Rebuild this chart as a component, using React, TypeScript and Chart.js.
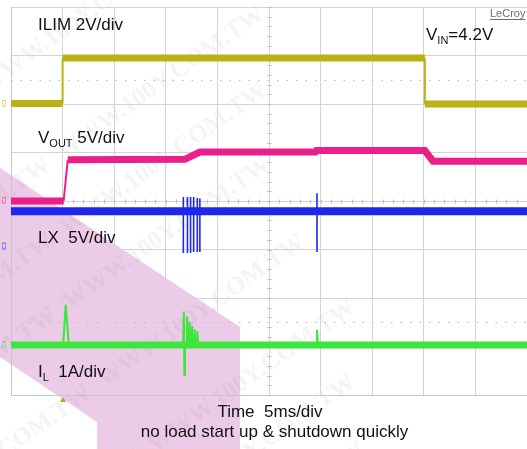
import React, { useEffect, useRef } from "react";
import { Chart, registerables } from "chart.js";

Chart.register(...registerables);

// Time axis in divisions (5 ms/div), vertical axis in screen divisions
const ilimTime = [0, 1.0, 1.0, 8.02, 8.02, 10];
const ilimLevel = [6.01, 6.01, 6.95, 6.95, 6.0, 6.0];

const voutTime = [0, 1.02, 1.1, 3.37, 3.66, 5.9, 5.92, 8.02, 8.18, 10];
const voutLevel = [4.0, 4.0, 4.85, 4.86, 5.01, 5.01, 5.04, 5.04, 4.82, 4.82];

const lxTime = [0, 10];
const lxLevel = [3.79, 3.79];
const lxSpikeTime = [3.34, 3.42, 3.48, 3.54, 3.61, 3.66, 5.93];
const lxSpikeLow = [2.93, 2.93, 2.93, 2.95, 2.95, 2.95, 2.95];
const lxSpikeHigh = [4.08, 4.08, 4.08, 4.08, 4.06, 4.05, 4.16];

const ilTime = [0, 10];
const ilLevel = [1.03, 1.03];
const ilSpikeTime = [1.06, 3.35, 3.41, 3.46, 3.51, 3.56, 3.61, 5.93];
const ilSpikePeak = [1.86, 1.72, 1.62, 1.51, 1.42, 1.35, 1.32, 1.34];
const ilSpikeRise = [0.05, 0.02, 0.005, 0.005, 0.005, 0.005, 0.005, 0.01];
const ilSpikeFall = [0.06, 0.0, 0.02, 0.02, 0.02, 0.02, 0.02, 0.02];
const ilDipTime = [3.36];
const ilDipLow = [0.41];

const watermarkText = "WWW.100Y.COM.TW";

const COL_Y = "#b8b214";
const COL_M = "#ea1f8c";
const COL_B = "#1e28ec";
const COL_G = "#3ce63c";

const FONT = '"Liberation Sans", Arial, sans-serif';

function pts(xs: number[], ys: number[]) {
  return xs.map((x, i) => ({ x, y: ys[i] }));
}

function lxSpikes() {
  const out: any[] = [];
  lxSpikeTime.forEach((t, i) => {
    out.push({ x: t, y: lxSpikeLow[i] }, { x: t, y: lxSpikeHigh[i] }, { x: t, y: NaN });
  });
  return out;
}

function ilSpikes() {
  const out: any[] = [];
  ilSpikeTime.forEach((t, i) => {
    const base = ilLevel[0];
    out.push({ x: t - ilSpikeRise[i], y: base }, { x: t, y: ilSpikePeak[i] });
    const dipIdx = ilDipTime.findIndex((d) => Math.abs(d - t) < 0.03);
    if (dipIdx >= 0) {
      out.push({ x: ilDipTime[dipIdx], y: ilDipLow[dipIdx] });
    }
    out.push({ x: t + ilSpikeFall[i] + (dipIdx >= 0 ? 0.02 : 0), y: base }, { x: t, y: NaN });
  });
  return out;
}

// thin for steep transitions, thick noisy band otherwise
function bandWidth(thick: number) {
  return (c: any) => {
    const dx = Math.abs(c.p1.x - c.p0.x);
    const dy = Math.abs(c.p1.y - c.p0.y);
    return dy > 6 && dx < dy * 0.3 ? 2 : thick;
  };
}

const decorPlugin = {
  id: "decor",
  beforeDraw(chart: any) {
    const ctx = chart.ctx;
    ctx.save();
    // pink watermark band
    ctx.fillStyle = "rgb(236,203,233)";
    ctx.beginPath();
    ctx.moveTo(0, 168);
    ctx.lineTo(240, 327);
    ctx.lineTo(240, 449);
    ctx.lineTo(97, 449);
    ctx.lineTo(97, 422);
    ctx.lineTo(0, 357);
    ctx.closePath();
    ctx.fill();
    // watermark text
    ctx.font = 'bold 25px "Liberation Serif", "DejaVu Serif", serif';
    ctx.fillStyle = "rgba(120,120,120,0.08)";
    ctx.textAlign = "right";
    ctx.textBaseline = "middle";
    const ang = -0.615;
    const tw = ctx.measureText(watermarkText).width + 14;
    const ends: [number, number][] = [
      [185, -55],
      [262, 12],
      [265, 88],
      [268, 162],
      [303, 240],
      [353, 305],
      [353, 380],
      [363, 448],
    ];
    ends.forEach(([ex, ey]) => {
      for (let k = 0; k < 3; k++) {
        ctx.save();
        ctx.translate(ex - k * tw * Math.cos(ang), ey - k * tw * Math.sin(ang));
        ctx.rotate(ang);
        ctx.fillText(watermarkText, 0, 0);
        ctx.restore();
      }
    });
    ctx.restore();
  },
  beforeDatasetsDraw(chart: any) {
    const ctx = chart.ctx;
    const xs = chart.scales.x;
    const ys = chart.scales.y;
    const a = chart.chartArea;
    ctx.save();
    // dotted lines
    ctx.strokeStyle = "#b8b8b8";
    ctx.lineWidth = 1;
    ctx.setLineDash([1.5, 8]);
    [1.5, 6.5].forEach((v) => {
      const y = Math.round(ys.getPixelForValue(v)) + 0.5;
      ctx.beginPath();
      ctx.moveTo(a.left, y);
      ctx.lineTo(a.right, y);
      ctx.stroke();
    });
    ctx.setLineDash([]);
    // center axis minor ticks
    ctx.strokeStyle = "#bdbdbd";
    const cx = Math.round(xs.getPixelForValue(5)) + 0.5;
    for (let j = 0; j <= 40; j++) {
      const y = Math.round(ys.getPixelForValue(j * 0.2)) + 0.5;
      ctx.beginPath();
      ctx.moveTo(cx - 2, y);
      ctx.lineTo(cx + 2, y);
      ctx.stroke();
    }
    const cy = Math.round(ys.getPixelForValue(4)) + 0.5;
    for (let i = 0; i <= 50; i++) {
      const x = Math.round(xs.getPixelForValue(i * 0.2)) + 0.5;
      ctx.beginPath();
      ctx.moveTo(x, cy - 2);
      ctx.lineTo(x, cy + 2);
      ctx.stroke();
    }
    ctx.restore();
  },
  afterDraw(chart: any) {
    const ctx = chart.ctx;
    ctx.save();
    ctx.fillStyle = "#111";
    ctx.textBaseline = "alphabetic";
    const big = `17px ${FONT}`;
    const sub = `11px ${FONT}`;
    const drawSeq = (x: number, y: number, parts: [string, boolean][]) => {
      let cx = x;
      parts.forEach(([t, isSub]) => {
        ctx.font = isSub ? sub : big;
        ctx.fillText(t, cx, isSub ? y + 4 : y);
        cx += ctx.measureText(t).width;
      });
    };
    drawSeq(38, 30, [["ILIM 2V/div", false]]);
    drawSeq(426, 40, [["V", false], ["IN", true], ["=4.2V", false]]);
    drawSeq(38, 143, [["V", false], ["OUT", true], [" 5V/div", false]]);
    drawSeq(38, 243, [["LX  5V/div", false]]);
    drawSeq(38, 377, [["I", false], ["L", true], ["  1A/div", false]]);
    ctx.font = big;
    ctx.textAlign = "center";
    ctx.fillText("Time  5ms/div", 270, 417);
    ctx.fillText("no load start up & shutdown quickly", 274.5, 437);
    // LeCroy
    ctx.textAlign = "left";
    ctx.font = `11px ${FONT}`;
    ctx.fillStyle = "#6e6e6e";
    ctx.fillText("LeCroy", 490, 17);
    const w = ctx.measureText("LeCroy").width;
    ctx.fillRect(490, 19, w, 1);
    // channel markers
    const marks: [string, string, number][] = [
      ["C1", COL_Y, 103],
      ["C2", COL_M, 200],
      ["C3", COL_B, 246],
      ["C4", COL_G, 344],
    ];
    ctx.font = `6px ${FONT}`;
    marks.forEach(([t, c, y]) => {
      ctx.save();
      ctx.translate(6, y);
      ctx.rotate(-Math.PI / 2);
      ctx.fillStyle = c;
      ctx.textAlign = "center";
      ctx.fillText(t, 0, 0);
      ctx.restore();
    });
    // trigger marker
    ctx.fillStyle = "#c89a2a";
    ctx.beginPath();
    ctx.moveTo(63, 397);
    ctx.lineTo(60, 402);
    ctx.lineTo(66, 402);
    ctx.closePath();
    ctx.fill();
    ctx.restore();
  },
};

export default function App() {
  const ref = useRef<HTMLCanvasElement | null>(null);
  useEffect(() => {
    if (!ref.current) return;
    const base = { showLine: true, pointRadius: 0, fill: false, tension: 0, spanGaps: false };
    const chart = new Chart(ref.current, {
      type: "scatter",
      data: {
        datasets: [
          {
            ...base,
            label: "ILIM",
            data: pts(ilimTime, ilimLevel),
            borderColor: COL_Y,
            borderWidth: 7,
            segment: { borderWidth: bandWidth(7) },
          },
          {
            ...base,
            label: "VOUT",
            data: pts(voutTime, voutLevel),
            borderColor: COL_M,
            borderWidth: 7,
            segment: { borderWidth: bandWidth(7) },
          },
          { ...base, label: "LX", data: pts(lxTime, lxLevel), borderColor: COL_B, borderWidth: 8 },
          { ...base, label: "LX spikes", data: lxSpikes(), borderColor: COL_B, borderWidth: 1.6 },
          { ...base, label: "IL", data: pts(ilTime, ilLevel), borderColor: COL_G, borderWidth: 7 },
          { ...base, label: "IL spikes", data: ilSpikes(), borderColor: COL_G, borderWidth: 2 },
        ] as any,
      },
      options: {
        responsive: false,
        animation: false,
        devicePixelRatio: 1,
        layout: { padding: { left: 11, top: 7, right: 0, bottom: 54 } },
        plugins: { legend: { display: false }, tooltip: { enabled: false } },
        scales: {
          x: {
            type: "linear",
            min: 0,
            max: 10,
            ticks: { display: false, stepSize: 1 },
            grid: { color: "#d4d4d4", drawTicks: false },
            border: { color: "#c6c6c6" },
          },
          y: {
            type: "linear",
            min: 0,
            max: 8,
            ticks: { display: false, stepSize: 1 },
            grid: { color: "#d4d4d4", drawTicks: false },
            border: { color: "#c6c6c6" },
          },
        },
      } as any,
      plugins: [decorPlugin],
    });
    return () => chart.destroy();
  }, []);
  return (
    <div style={{ position: "fixed", left: 0, top: 0, width: 527, height: 449, background: "#fff" }}>
      <canvas ref={ref} width={527} height={449} style={{ display: "block" }} />
    </div>
  );
}
